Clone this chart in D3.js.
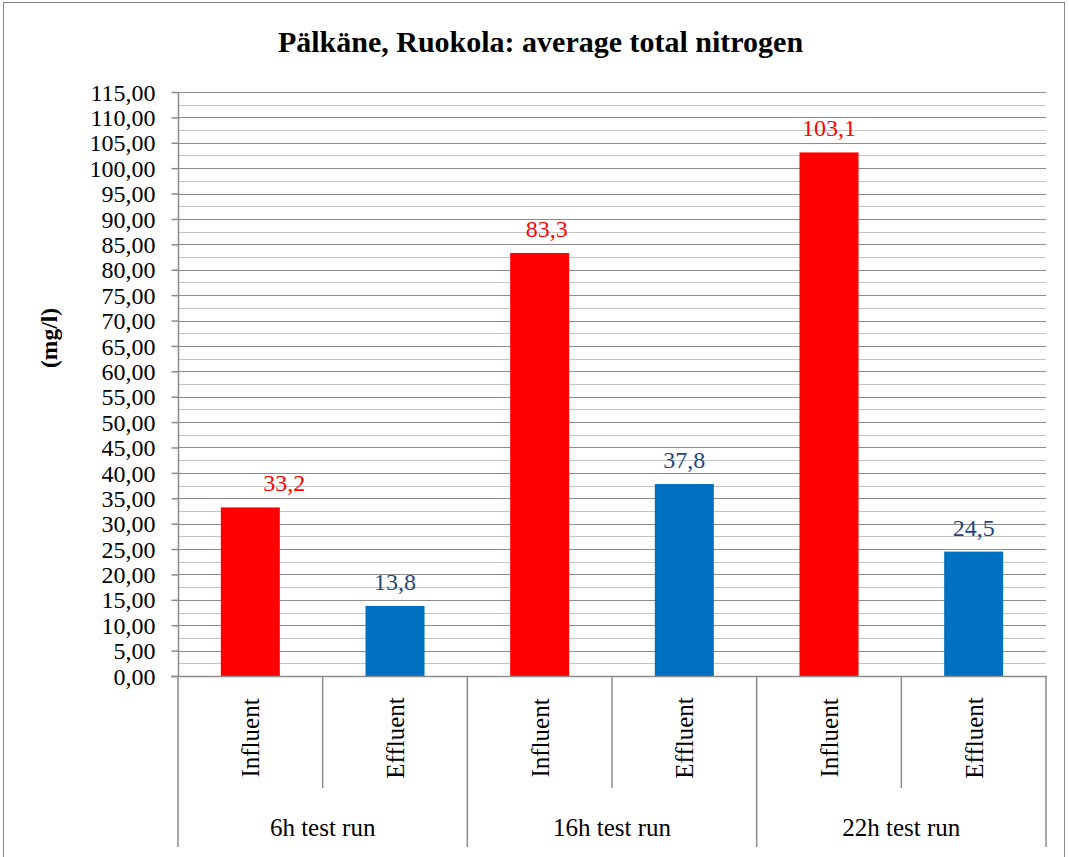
<!DOCTYPE html>
<html lang="en">
  <head>
    <meta charset="UTF-8" />
    <title>Pälkäne, Ruokola: average total nitrogen</title>
    <script src="https://d3js.org/d3.v7.min.js"></script>
    <style>
      body { margin: 0; background: #fff; }
      svg text { font-family: "Liberation Serif", "DejaVu Serif", serif !important; }
    </style>
  </head>
  <body>
    <div id="chart"></div>
    <script>
      // data
      const groups = ["6h test run", "16h test run", "22h test run"];
      const kinds = ["Influent", "Effluent"];
      const influent = [33.2, 83.3, 103.1];
      const effluent = [13.8, 37.8, 24.5];
      const yTicks = d3.range(0, 116, 5);

      const width = 1069, height = 857;
      const plotLeft = 178, plotRight = 1046, plotTop = 92, plotBottom = 676;
      const serif = "'Liberation Serif', 'DejaVu Serif', serif";
      // the first label was dragged sideways in the original
      const labelNudge = { 0: 34, 2: 7 };

      const svg = d3.select("#chart").append("svg")
        .attr("width", width).attr("height", height)
        .attr("font-family", serif);

      // outer frame
      svg.append("rect")
        .attr("x", 3.5).attr("y", 2.5)
        .attr("width", 1061).attr("height", 860)
        .attr("fill", "none").attr("stroke", "#888").attr("stroke-width", 1);

      // build rows
      const rows = [];
      groups.forEach((g, i) => {
        rows.push({ group: g, kind: kinds[0], value: influent[i] });
        rows.push({ group: g, kind: kinds[1], value: effluent[i] });
      });

      const x = d3.scaleBand()
        .domain(rows.map((d, i) => i))
        .range([plotLeft, plotRight])
        .paddingInner(0.592).paddingOuter(0.296);
      const xSlot = d3.scaleBand().domain(rows.map((d, i) => i)).range([plotLeft, plotRight]);
      const y = d3.scaleLinear().domain([0, 115]).range([plotBottom, plotTop]);

      // minor gridlines
      svg.append("g").selectAll("line")
        .data(d3.range(2.5, 115, 5))
        .join("line")
        .attr("x1", plotLeft).attr("x2", plotRight)
        .attr("y1", d => Math.round(y(d)) + 0.5).attr("y2", d => Math.round(y(d)) + 0.5)
        .attr("stroke", "#c4c4c4").attr("stroke-width", 1.2);

      // major gridlines
      svg.append("g").selectAll("line")
        .data(yTicks.filter(d => d > 0))
        .join("line")
        .attr("x1", plotLeft).attr("x2", plotRight)
        .attr("y1", d => Math.round(y(d)) + 0.5).attr("y2", d => Math.round(y(d)) + 0.5)
        .attr("stroke", "#8c8c8c").attr("stroke-width", 1.2);

      // y axis
      const yAxis = svg.append("g")
        .attr("transform", `translate(${plotLeft + 0.5},0)`)
        .call(d3.axisLeft(y).tickValues(yTicks).tickSize(7).tickPadding(16)
          .tickFormat(d => d3.format(".2f")(d).replace(".", ",")));
      yAxis.attr("font-family", serif).attr("font-size", 24);
      yAxis.select(".domain").attr("stroke", "#8c8c8c").attr("stroke-width", 1.5)
        .attr("d", `M0,${plotBottom}V${plotTop}`);
      yAxis.selectAll(".tick line").attr("stroke", "#8c8c8c").attr("stroke-width", 1.5);
      yAxis.selectAll(".tick text").attr("fill", "#000").attr("dy", "0.34em");

      // bars
      svg.append("g").selectAll("rect")
        .data(rows)
        .join("rect")
        .attr("x", (d, i) => x(i))
        .attr("width", x.bandwidth())
        .attr("y", d => y(d.value))
        .attr("height", d => plotBottom - y(d.value))
        .attr("fill", d => d.kind === "Influent" ? "#ff0000" : "#0070c0");

      // value labels
      svg.append("g").selectAll("text")
        .data(rows)
        .join("text")
        .attr("x", (d, i) => x(i) + x.bandwidth() / 2 + (labelNudge[i] || 0))
        .attr("y", d => y(d.value) - 16)
        .attr("text-anchor", "middle")
        .attr("font-size", 24)
        .attr("fill", d => d.kind === "Influent" ? "#ff0000" : "#1f497d")
        .text(d => d.value.toFixed(1).replace(".", ","));

      // category axis
      const axisG = svg.append("g");
      axisG.append("line")
        .attr("x1", plotLeft - 7).attr("x2", plotRight + 1)
        .attr("y1", plotBottom + 0.5).attr("y2", plotBottom + 0.5)
        .attr("stroke", "#8c8c8c").attr("stroke-width", 1.5);
      // dividers between kinds inside a group
      axisG.selectAll("line.inner")
        .data(groups)
        .join("line")
        .attr("class", "inner")
        .attr("x1", (d, i) => xSlot(i * 2 + 1)).attr("x2", (d, i) => xSlot(i * 2 + 1))
        .attr("y1", plotBottom).attr("y2", 788)
        .attr("stroke", "#8c8c8c").attr("stroke-width", 1.5);
      // group boundaries
      const bounds = groups.map((d, i) => xSlot(i * 2)).concat([plotRight]);
      axisG.selectAll("line.outer")
        .data(bounds)
        .join("line")
        .attr("class", "outer")
        .attr("x1", d => d).attr("x2", d => d)
        .attr("y1", plotBottom).attr("y2", 847)
        .attr("stroke", "#8c8c8c").attr("stroke-width", 1.5);

      // kind labels (rotated)
      axisG.selectAll("text.kind")
        .data(rows)
        .join("text")
        .attr("class", "kind")
        .attr("transform", (d, i) => `translate(${xSlot(i) + xSlot.bandwidth() / 2 + 9},738) rotate(-90)`)
        .attr("text-anchor", "middle")
        .attr("font-size", 25)
        .attr("fill", "#000")
        .text(d => d.kind);

      // group labels
      axisG.selectAll("text.group")
        .data(groups)
        .join("text")
        .attr("class", "group")
        .attr("x", (d, i) => xSlot(i * 2 + 1))
        .attr("y", 836)
        .attr("text-anchor", "middle")
        .attr("font-size", 25)
        .attr("fill", "#000")
        .text(d => d);

      // title
      svg.append("text")
        .attr("x", 540.5).attr("y", 52)
        .attr("text-anchor", "middle")
        .attr("font-size", 30).attr("font-weight", "bold")
        .text("Pälkäne, Ruokola: average total nitrogen");

      // y axis title
      svg.append("text")
        .attr("transform", "translate(57,338) rotate(-90)")
        .attr("text-anchor", "middle")
        .attr("font-size", 23.5).attr("font-weight", "bold")
        .text("(mg/l)");
    </script>
  </body>
</html>
